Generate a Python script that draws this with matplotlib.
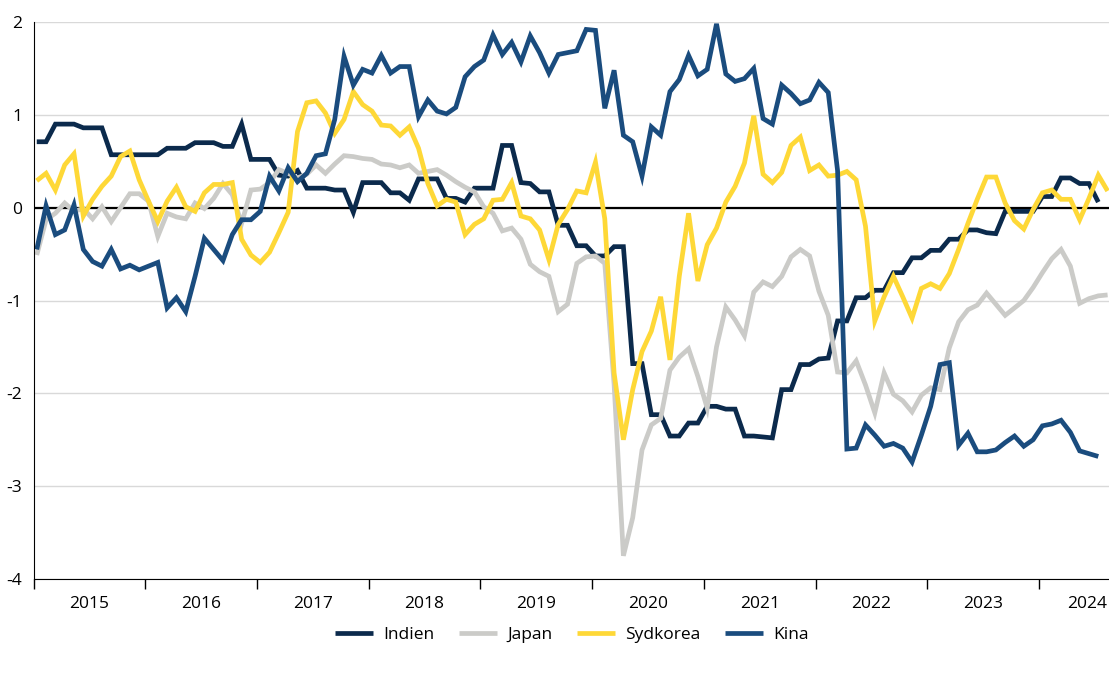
import numpy as np
import matplotlib
matplotlib.use("Agg")
import matplotlib.pyplot as plt
from matplotlib.ticker import FixedLocator, NullFormatter

# monthly index values, first point Jan 2015
indien = [0.71, 0.71, 0.90, 0.90, 0.90, 0.86, 0.86, 0.86, 0.57, 0.57,
          0.57, 0.57, 0.57, 0.57, 0.64, 0.64, 0.64, 0.70, 0.70, 0.70,
          0.66, 0.66, 0.90, 0.52, 0.52, 0.52, 0.35, 0.34, 0.40, 0.21,
          0.21, 0.21, 0.19, 0.19, -0.05, 0.27, 0.27, 0.27, 0.16, 0.16,
          0.08, 0.31, 0.31, 0.31, 0.10, 0.10, 0.06, 0.21, 0.21, 0.21,
          0.67, 0.67, 0.27, 0.26, 0.17, 0.17, -0.19, -0.19, -0.41, -0.41,
          -0.52, -0.52, -0.42, -0.42, -1.68, -1.68, -2.23, -2.23, -2.46, -2.46,
          -2.32, -2.32, -2.14, -2.14, -2.17, -2.17, -2.46, -2.46, -2.47, -2.48,
          -1.96, -1.96, -1.69, -1.69, -1.63, -1.62, -1.22, -1.22, -0.97, -0.97,
          -0.89, -0.89, -0.70, -0.70, -0.54, -0.54, -0.46, -0.46, -0.34, -0.34,
          -0.24, -0.24, -0.27, -0.28, -0.04, -0.04, -0.04, -0.04, 0.12, 0.12,
          0.32, 0.32, 0.26, 0.26, 0.06]

japan = [-0.51, -0.13, -0.06, 0.05, -0.04, -0.01, -0.12, 0.01, -0.15, 0.00,
         0.15, 0.15, 0.07, -0.31, -0.06, -0.10, -0.12, 0.05, -0.01, 0.10,
         0.26, 0.14, -0.17, 0.19, 0.20, 0.27, 0.41, 0.37, 0.32, 0.36,
         0.46, 0.37, 0.47, 0.56, 0.55, 0.53, 0.52, 0.47, 0.46, 0.43,
         0.46, 0.37, 0.39, 0.41, 0.35, 0.28, 0.22, 0.17, 0.01, -0.06,
         -0.25, -0.22, -0.34, -0.61, -0.69, -0.74, -1.12, -1.04, -0.60, -0.53,
         -0.52, -0.60, -1.90, -3.75, -3.34, -2.61, -2.34, -2.27, -1.75, -1.61,
         -1.52, -1.82, -2.16, -1.50, -1.07, -1.21, -1.38, -0.91, -0.80, -0.85,
         -0.74, -0.53, -0.45, -0.52, -0.90, -1.16, -1.77, -1.78, -1.65, -1.91,
         -2.21, -1.78, -2.01, -2.08, -2.20, -2.02, -1.94, -1.96, -1.51, -1.23,
         -1.10, -1.05, -0.92, -1.04, -1.16, -1.08, -1.00, -0.86, -0.70, -0.55,
         -0.45, -0.63, -1.03, -0.98, -0.95, -0.94]

sydkorea = [0.29, 0.37, 0.19, 0.46, 0.58, -0.09, 0.09, 0.23, 0.34, 0.55,
            0.61, 0.30, 0.07, -0.15, 0.07, 0.22, 0.01, -0.04, 0.16, 0.25,
            0.25, 0.27, -0.34, -0.51, -0.59, -0.48, -0.27, -0.05, 0.82, 1.13,
            1.15, 1.02, 0.80, 0.95, 1.25, 1.11, 1.04, 0.89, 0.88, 0.78,
            0.87, 0.64, 0.26, 0.02, 0.09, 0.06, -0.29, -0.18, -0.12, 0.08,
            0.09, 0.27, -0.09, -0.12, -0.24, -0.56, -0.18, -0.02, 0.18, 0.16,
            0.49, -0.12, -1.78, -2.50, -1.96, -1.55, -1.33, -0.96, -1.64, -0.74,
            -0.06, -0.79, -0.40, -0.22, 0.06, 0.23, 0.48, 0.99, 0.36, 0.27,
            0.38, 0.67, 0.76, 0.40, 0.46, 0.34, 0.35, 0.39, 0.30, -0.20,
            -1.22, -0.96, -0.74, -0.96, -1.19, -0.87, -0.82, -0.87, -0.71, -0.45,
            -0.17, 0.09, 0.33, 0.33, 0.05, -0.14, -0.23, -0.02, 0.16, 0.19,
            0.09, 0.09, -0.13, 0.10, 0.35, 0.18]

kina = [-0.45, 0.02, -0.29, -0.24, 0.03, -0.45, -0.58, -0.63, -0.45, -0.66,
        -0.62, -0.67, -0.63, -0.59, -1.08, -0.97, -1.12, -0.74, -0.33, -0.45,
        -0.57, -0.29, -0.13, -0.13, -0.04, 0.34, 0.18, 0.43, 0.28, 0.37,
        0.56, 0.58, 0.95, 1.63, 1.32, 1.49, 1.45, 1.64, 1.45, 1.52,
        1.52, 0.98, 1.16, 1.04, 1.01, 1.08, 1.41, 1.52, 1.59, 1.86,
        1.65, 1.78, 1.57, 1.85, 1.67, 1.45, 1.65, 1.67, 1.69, 1.92,
        1.91, 1.07, 1.48, 0.78, 0.71, 0.34, 0.87, 0.78, 1.25, 1.38,
        1.64, 1.42, 1.49, 1.98, 1.44, 1.36, 1.39, 1.50, 0.96, 0.90,
        1.32, 1.23, 1.12, 1.16, 1.35, 1.24, 0.40, -2.60, -2.59, -2.34,
        -2.45, -2.57, -2.54, -2.59, -2.74, -2.45, -2.14, -1.69, -1.67, -2.56,
        -2.43, -2.63, -2.63, -2.61, -2.53, -2.46, -2.57, -2.50, -2.35, -2.33,
        -2.29, -2.42, -2.62, -2.65, -2.68]

years = [str(y) for y in range(2015, 2025)]

plt.rcParams['font.family'] = ['Open Sans', 'DejaVu Sans']

fig = plt.figure(figsize=(11.09, 6.73), dpi=100)
ax = fig.add_axes([33.5 / 1109, 1 - 579 / 673, 1 - 33.5 / 1109, 557 / 673])

series = [("Indien", indien, "#0b2a4c"),
          ("Japan", japan, "#cbcbc8"),
          ("Sydkorea", sydkorea, "#fed837"),
          ("Kina", kina, "#1a4c7e")]

for name, vals, col in series:
    x = np.arange(len(vals)) + 0.35
    ax.plot(x, vals, color=col, lw=3.4, label=name, solid_joinstyle="miter",
            solid_capstyle="butt")

ax.set_xlim(0, 115.5)
ax.set_ylim(-4, 2)
ax.set_yticks(range(-4, 3))
ax.set_yticklabels([str(v) for v in range(-4, 3)], fontsize=12.5)
ax.tick_params(axis="y", length=0, pad=8)
ax.grid(axis="y", color="#d9d9d9", lw=1)
ax.set_axisbelow(True)
ax.axhline(0, color="black", lw=1.6, zorder=1)

# year labels sit mid-year; the last one is pulled in so it fits
label_pos = list(np.arange(6, 114, 12)) + [113.2]
ax.xaxis.set_major_locator(FixedLocator(np.arange(0, 116, 12)))
ax.xaxis.set_major_formatter(NullFormatter())
ax.xaxis.set_minor_locator(FixedLocator(label_pos))
ax.set_xticklabels(years, minor=True, fontsize=12.5)
ax.tick_params(axis="x", which="major", length=7, width=1, color="black")
ax.tick_params(axis="x", which="minor", length=0, pad=12)

for s in ["top", "right"]:
    ax.spines[s].set_visible(False)
ax.spines["left"].set_color("black")
ax.spines["bottom"].set_color("black")

fig.legend(loc="center", bbox_to_anchor=(572 / 1109, 1 - 635 / 673), ncol=4,
           frameon=False, fontsize=12.5, handlelength=2.2, columnspacing=1.4,
           handletextpad=0.6)

fig.savefig("out.png", dpi=100)
